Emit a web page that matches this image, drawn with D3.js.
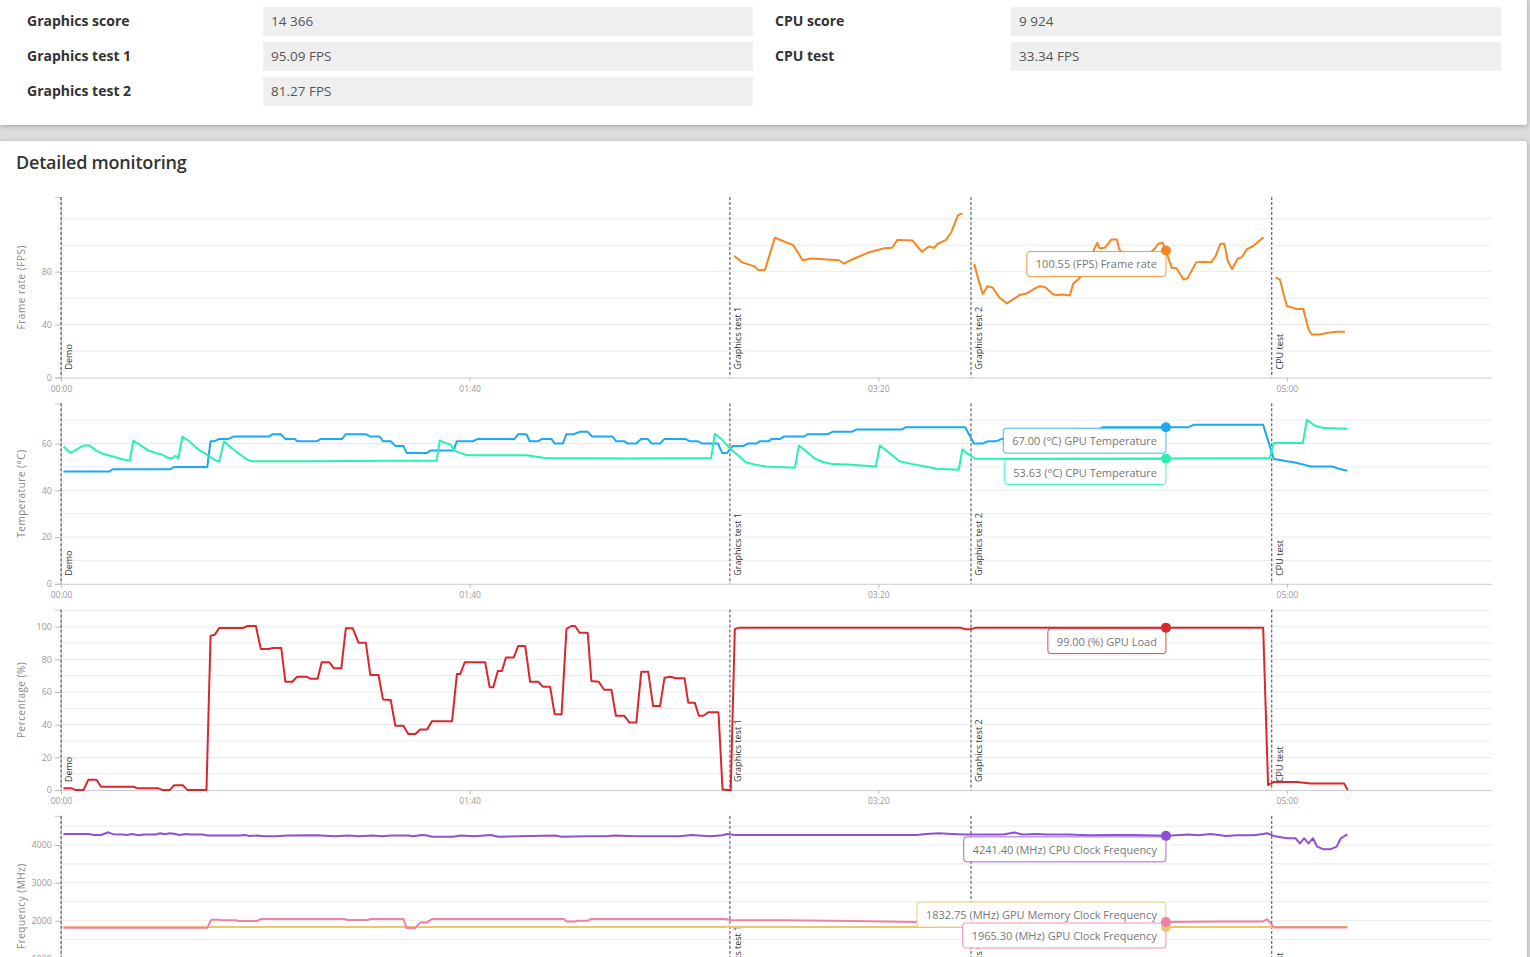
<!DOCTYPE html>
<html>
<head>
<meta charset="utf-8">
<script src="https://cdnjs.cloudflare.com/ajax/libs/d3/7.8.5/d3.min.js"></script>
<style>
  html, body { margin: 0; padding: 0; }
  body {
    width: 1530px; height: 957px; overflow: hidden; position: relative;
    background: #dcdcdc; font-family: "Open Sans", sans-serif;
  }
  .card {
    position: absolute; left: 0; width: 1527px; background: #fff;
    box-shadow: 0 1px 5px rgba(0,0,0,0.28);
  }
  #scores { top: 0; height: 125px; border-radius: 0 0 3px 0; }
  #monitor { top: 141px; height: 1000px; border-radius: 0 3px 0 0; }
  .score-label {
    position: absolute; font-size: 14px; font-weight: 700; color: #333;
    line-height: 29px; margin-top: -1px;
  }
  .score-value {
    position: absolute; width: 482px; height: 29px; line-height: 29px;
    padding-left: 8px; background: #efefef; color: #555; font-size: 13.5px;
  }
  #title {
    position: absolute; left: 16px; top: 150px; font-size: 18px;
    font-weight: 600; color: #333; letter-spacing: -0.2px;
  }
  svg { position: absolute; left: 0; top: 0; }
  .tick text { font-family: "Open Sans", sans-serif; fill: #999; }
  .tick line { stroke: #bbb; }
  .domain { stroke: #ccc; }
</style>
</head>
<body>
<div class="card" id="scores"></div>
<div class="card" id="monitor"></div>
<div id="title">Detailed monitoring</div>
<svg id="charts" width="1530" height="957"></svg>
<script>
"use strict";

// ---- score table ----
const leftLabels = ["Graphics score", "Graphics test 1", "Graphics test 2"];
const leftValues = ["14 366", "95.09 FPS", "81.27 FPS"];
const rightLabels = ["CPU score", "CPU test"];
const rightValues = ["9 924", "33.34 FPS"];

// ---- monitoring data: [time (s), value] ----
const markerTimes = [0, 163.7, 222.7, 296.3];
const markerNames = ["Demo", "Graphics test 1", "Graphics test 2", "CPU test"];
const timeTicks = [0, 100, 200, 300];

const fpsTicks = [0, 40, 80];
const tempTicks = [0, 20, 40, 60];
const loadTicks = [0, 20, 40, 60, 80, 100];
const freqTicks = [0, 1000, 2000, 3000, 4000];

const frameRate = [
  [164.7, 92], [166.7, 87], [169.7, 84], [170.7, 81], [172.3, 81.5], [174.7, 105.6],
  [179.2, 100], [181.5, 88.6], [183.7, 90], [190.4, 88.6], [191.6, 86], [193.5, 89],
  [197.8, 94.7], [201.5, 97.7], [203.4, 98], [204.7, 104], [208.4, 103.5], [210.7, 95],
  [212.4, 99], [213.7, 98], [214.5, 101], [216.6, 104], [217.9, 110], [219.5, 122.6],
  [220.6, 124], [222, null],
  [223.5, 85.8], [224.6, 73], [225.6, 63], [226.7, 69], [228, 68], [229.6, 60.4],
  [231.5, 56], [233, 59], [234.6, 62.3], [236.3, 63.5], [237.9, 66.5], [239.5, 69],
  [240.8, 68.3], [242.8, 62.8], [244, 62.3], [245.2, 62.8], [246.9, 62], [247.7, 70.8],
  [248.9, 74], [250.5, 80], [252, 90], [253, 98], [253.6, 101.8], [254.2, 97.5],
  [255.4, 98], [257.1, 104.3], [258.4, 104.3], [258.9, 97.5], [260.5, 90], [262.5, 86],
  [264.5, 88], [266.5, 94], [267.7, 97.5], [268.5, 101], [269.6, 101.8], [270.4, 96],
  [271.8, 83], [273, 82.5], [274.7, 74], [275.7, 75], [277.8, 87], [279.4, 87.5],
  [281.5, 87], [282.6, 92], [283.7, 101], [284.7, 101], [285.6, 87.5], [286.6, 82],
  [287.9, 89.6], [289, 91], [290.2, 97], [291.6, 99], [294.3, 106], [296, null],
  [297.2, 75.6], [298.3, 74], [299.3, 61.7], [300, 54], [301.4, 52.8], [302.7, 51.5],
  [304, 52], [305.3, 36.3], [306.1, 32.5], [308, 32.5], [310.1, 33.8], [312.3, 34.5],
  [314.2, 34.5]
];

const gpuTemp = [
  [0.6, 48], [11.8, 48], [12.7, 49], [26.8, 49], [27.7, 50], [35.8, 50], [36.6, 61],
  [37.6, 61], [38.7, 62], [41, 62], [42.2, 63], [50.9, 63], [51.8, 64], [53.8, 64],
  [54.9, 62], [57.2, 62], [57.8, 61], [62.7, 61], [63.6, 62], [68.8, 62], [69.7, 64],
  [74.6, 64], [75.7, 63], [78, 63], [78.8, 61], [80.7, 61], [81.8, 59], [83.8, 59],
  [84.6, 56], [89.6, 56], [90.4, 57], [96, 57], [96.9, 61], [100.9, 61], [102, 62],
  [111, 62], [111.9, 64], [113.9, 64], [114.7, 61], [116.8, 61], [117.7, 62], [120, 62],
  [120.8, 60], [122.8, 60], [123.7, 64], [125.4, 64], [126.9, 65], [128.9, 65], [130, 63],
  [135, 63], [135.8, 61], [137.8, 61], [138.7, 60], [140.8, 60], [142, 62], [143.6, 62],
  [144.5, 60], [146.6, 60], [147.7, 62], [152.8, 62], [153.8, 61], [155.8, 61], [157, 60],
  [160.8, 60], [161.8, 56], [163, 56], [164.4, 59], [167, 59], [168.1, 60], [170.2, 60],
  [171.1, 61], [173.2, 61], [173.9, 62], [176, 62], [176.9, 63], [181.9, 63], [182.7, 64],
  [187.7, 64], [188.8, 65], [193.5, 65], [194.6, 66], [205.7, 66], [206.8, 67], [221.3, 67],
  [223.4, 60], [225.5, 60], [226.9, 61], [229, 61], [230.2, 62], [233, 62], [234, 63],
  [238, 63], [239, 64], [243, 64], [244, 65], [248, 65], [249, 66], [254, 66], [255, 67],
  [276, 67], [277.2, 68], [294.2, 68], [296.8, 53.4], [298.4, 53], [300, 52.4],
  [301.6, 52], [303.2, 51.4], [305.8, 50.2], [311.1, 50.2], [312.7, 49.2], [314.8, 48.4]
];

const cpuTemp = [
  [0.6, 58.8], [2.3, 56], [4, 57.6], [5.5, 59.2], [6.9, 59.2], [8.7, 57], [10.4, 55.5],
  [12.7, 54.5], [14.5, 53.5], [16.8, 52.6], [17.7, 61.3], [19.7, 59], [21.4, 57],
  [23.1, 56], [24.9, 55.2], [26, 54], [27.2, 53.6], [28, 54.8], [28.7, 53.6], [29.7, 63],
  [31.2, 61.3], [33.5, 57.6], [35.8, 55.2], [37.6, 53], [38.7, 52.2], [39.9, 61],
  [41.6, 58.3], [43.9, 55.2], [45.7, 53], [46.8, 52.4], [60.1, 52.4], [79.8, 52.6],
  [91.9, 52.6], [92.7, 61.3], [94.2, 60.2], [95.4, 59.5], [96.2, 57], [97.7, 56],
  [99.4, 55], [113.9, 55], [118.5, 53.8], [138.7, 53.6], [159.1, 53.8], [160, 64.2],
  [161.8, 61.6], [163.7, 58], [165.5, 55.2], [167.6, 52], [169.7, 51], [172.4, 50.2],
  [179.6, 49.6], [180.6, 59.2], [182.4, 56.6], [184.5, 53.5], [186.7, 52], [188.8, 51.2],
  [192.5, 51], [199.4, 50.2], [200.4, 59.2], [202.5, 56.3], [205.2, 52.4], [208.4, 51.2],
  [211.5, 50.2], [214.2, 49.2], [219.7, 48.8], [220.6, 57.6], [221.6, 56], [223.7, 53.5],
  [270.4, 53.6], [295.8, 53.8], [296.8, 60.2], [303.9, 60.2], [304.9, 70.2], [306.9, 67.6],
  [309, 66.6], [314.8, 66.3]
];

const gpuLoad = [
  [0.6, 1.2], [2.5, 1.2], [3.7, 0], [5.5, 0], [6.7, 6.3], [8.7, 6.3], [9.8, 2], [17.9, 2],
  [18.5, 1.2], [23.7, 1.2], [24.9, 0], [26.6, 0], [27.7, 3], [29.8, 3], [31, 0], [35.6, 0],
  [36.6, 94.5], [37.6, 95], [38.7, 99.2], [44.5, 99.2], [45.7, 100.4], [47.7, 100.4],
  [48.9, 86.3], [50.9, 86.3], [51.8, 87], [53.9, 87], [54.9, 66.3], [56.6, 66.3],
  [57.8, 69.4], [60.1, 69.4], [61, 68.2], [62.8, 68.2], [63.8, 78.2], [65.7, 78.2],
  [66.8, 74.5], [68.6, 74.5], [69.7, 99], [71.4, 99], [72.8, 90.2], [74.6, 90.2],
  [75.7, 70.4], [77.7, 70.4], [78.8, 55.5], [80.7, 55.1], [81.8, 39.4], [83.8, 39.4],
  [85, 34.3], [86.7, 34.3], [87.9, 37.1], [89.6, 37.1], [90.8, 42.2], [95.7, 42.2],
  [96.9, 71], [97.7, 71], [98.8, 78.2], [103.8, 78.2], [104.9, 63], [105.8, 63],
  [106.9, 72.9], [107.9, 72.9], [108.9, 81.2], [110.8, 81.2], [111.9, 88.2], [113.6, 88.2],
  [114.8, 66.3], [116.8, 66.3], [117.9, 63.3], [119.7, 63.3], [120.8, 46.5], [122.5, 46.3],
  [123.7, 98.6], [124.9, 100.4], [125.8, 100.4], [126.9, 96.3], [128.9, 96.3], [129.8, 66.7],
  [131.6, 66.3], [132.9, 61.4], [134.7, 61.4], [135.8, 45.5], [137.8, 45.5], [139.1, 41.4],
  [140.8, 41.4], [142, 72.4], [143.7, 72.4], [144.9, 51.4], [146.6, 51.4], [147.7, 68.8],
  [149.1, 69.4], [150.5, 68.4], [152.6, 68.4], [153.5, 53.5], [155.1, 53.5], [156.1, 45.5],
  [157.2, 45.5], [158.4, 47.6], [160.9, 47.6], [161.9, 0.3], [163.1, 0], [163.9, 0],
  [164.9, 98.6], [166.1, 99.4], [220, 99.4], [221.3, 98.4], [222.6, 98.4], [224, 99.4],
  [294.2, 99.4], [295.4, 3], [296.8, 5], [302.4, 5], [305.8, 4], [314, 4], [314.9, 0]
];

const cpuClock = [
  [0.6, 4290], [6.9, 4290], [8, 4265], [9.8, 4265], [11.6, 4335], [12.7, 4285], [15, 4280],
  [16.2, 4265], [17.3, 4290], [19.1, 4255], [20.2, 4275], [23.1, 4275], [24.3, 4310],
  [25.4, 4285], [26.6, 4310], [28, 4290], [28.9, 4265], [30.6, 4290], [31.8, 4275],
  [34.7, 4275], [35.8, 4250], [43.9, 4250], [45.1, 4265], [46.2, 4240], [48, 4250],
  [49.7, 4230], [52.6, 4230], [55.5, 4250], [62.4, 4255], [67.1, 4230], [70.5, 4250],
  [72.8, 4230], [76.3, 4250], [78.6, 4230], [80.9, 4250], [85, 4250], [86.1, 4230],
  [88.4, 4265], [89.6, 4250], [90.8, 4220], [96, 4220], [97.7, 4250], [101.2, 4230],
  [105.2, 4265], [107, 4220], [112.1, 4230], [120.8, 4250], [122.5, 4220], [128.9, 4230],
  [133.5, 4230], [135.3, 4250], [141, 4230], [146.8, 4230], [151.4, 4230], [154.3, 4265],
  [156.1, 4250], [159, 4230], [161.8, 4255], [163, 4290], [165, 4265], [209.5, 4265],
  [211.6, 4290], [214.8, 4310], [218, 4290], [221.2, 4275], [230.6, 4275], [233.3, 4330],
  [235.4, 4275], [238.6, 4290], [241.2, 4275], [246.5, 4275], [251.8, 4255], [257, 4265],
  [262.4, 4265], [270.4, 4241], [272.9, 4255], [276.1, 4275], [278.2, 4255], [281.4, 4290],
  [285.1, 4240], [287.8, 4255], [292, 4255], [295.2, 4310], [296.8, 4240], [300, 4177],
  [302.1, 4177], [303.2, 4044], [304.2, 4177], [305.3, 4044], [306.4, 4177], [307.4, 3956],
  [309, 3885], [310.6, 3885], [312.2, 3956], [313.2, 4177], [314.8, 4283]
];

const gpuMemClock = [
  [0.6, 1825], [35.8, 1825], [36.6, 1832], [162.5, 1832], [163.5, 1850], [164.5, 1832],
  [314.8, 1832]
];

const gpuClock = [
  [0.6, 1815], [35.8, 1815], [36.8, 2027], [38.7, 2027], [39.3, 2010], [42.8, 2010],
  [43.4, 1990], [48, 1990], [48.8, 2044], [69.4, 2044], [70, 2018], [75.1, 2018],
  [75.7, 2044], [83.8, 2044], [84.6, 1805], [86.7, 1805], [87.9, 1955], [89.6, 1955],
  [90.8, 2044], [123.1, 2044], [123.7, 1982], [126, 1982], [126.6, 2000], [128.9, 2000],
  [129.7, 2044], [162.4, 2044], [164.4, 2010], [177.6, 2010], [193.5, 1990], [208.9, 1965],
  [270.4, 1965], [283.6, 1982], [294.2, 1982], [295.2, 2044], [296.8, 1823], [314.8, 1823]
];

// hover readout
const hoverTime = 270.4;
const hoverTexts = {
  fps: "100.55 (FPS) Frame rate",
  gpuTemp: "67.00 (°C) GPU Temperature",
  cpuTemp: "53.63 (°C) CPU Temperature",
  gpuLoad: "99.00 (%) GPU Load",
  cpuClock: "4241.40 (MHz) CPU Clock Frequency",
  gpuMemClock: "1832.75 (MHz) GPU Memory Clock Frequency",
  gpuClock: "1965.30 (MHz) GPU Clock Frequency",
};

// ---- score table ----
function renderScores(labels, values, labelX, boxX) {
  const card = d3.select("#scores");
  labels.forEach((label, i) => {
    card.append("div").attr("class", "score-label")
        .style("left", labelX + "px").style("top", (7 + i*35) + "px")
        .text(label);
    card.append("div").attr("class", "score-value")
        .style("left", boxX + "px").style("top", (7 + i*35) + "px")
        .text(values[i]);
  });
}
renderScores(leftLabels, leftValues, 27, 263);
renderScores(rightLabels, rightValues, 775, 1011);

// ---- charts ----
const svg = d3.select("#charts");
const pageHeight = 957;

const margins = {left: 61, right: 1492, top: 197};
const chartStep = 206.3;
const chartHeight = 180.5;

const xScale = d3.scaleLinear().domain([0, 350.2]).range([margins.left, margins.right]);

const formatTime = t => {
  const m = Math.floor(t / 60), s = t % 60;
  return d3.format("02")(m) + ":" + d3.format("02")(s);
};

function valueAt(data, t) {
  const pts = data.filter(d => d[1] != null);
  const i = d3.bisector(d => d[0]).left(pts, t);
  if (i <= 0) return pts[0][1];
  if (i >= pts.length) return pts[pts.length-1][1];
  const a = pts[i-1], b = pts[i];
  return a[1] + (b[1] - a[1]) * (t - a[0]) / (b[0] - a[0]);
}

const charts = [
  {title: "Frame rate (FPS)", grid: 20, ticks: fpsTicks,
   series: [{data: frameRate, color: "#f7861f", text: hoverTexts.fps}]},
  {title: "Temperature (°C)", grid: 10, ticks: tempTicks,
   series: [{data: gpuTemp, color: "#1aa9f2", text: hoverTexts.gpuTemp},
            {data: cpuTemp, color: "#28f1b4", text: hoverTexts.cpuTemp}]},
  {title: "Percentage (%)", grid: 10, ticks: loadTicks,
   series: [{data: gpuLoad, color: "#d8282e", text: hoverTexts.gpuLoad}]},
  {title: "Frequency (MHz)", grid: 500, ticks: freqTicks,
   series: [{data: cpuClock, color: "#8f50d2", text: hoverTexts.cpuClock},
            {data: gpuMemClock, color: "#ebc66e", text: hoverTexts.gpuMemClock, dy: -26},
            {data: gpuClock, color: "#ef80a8", text: hoverTexts.gpuClock}]},
];

charts.forEach((chart, ci) => {
  const top = margins.top + ci * chartStep;
  const bottom = top + chartHeight;
  const maxV = d3.max(chart.series, s => d3.max(s.data, d => d[1]));
  const y = d3.scaleLinear().domain([0, maxV * 1.1]).range([bottom, top]);

  const g = svg.append("g");

  // grid
  g.append("g").selectAll("line")
    .data(d3.range(chart.grid, maxV * 1.1, chart.grid))
    .join("line")
    .attr("x1", margins.left).attr("x2", margins.right)
    .attr("y1", d => y(d)).attr("y2", d => y(d))
    .attr("stroke", "#ebebeb").attr("stroke-width", 1);

  // x axis (the last one sits below the fold of the page)
  if (bottom < pageHeight) {
    g.append("g")
      .attr("transform", `translate(0, ${bottom})`)
      .call(d3.axisBottom(xScale).tickValues(timeTicks).tickFormat(formatTime)
              .tickSize(4).tickSizeOuter(0).tickPadding(4))
      .call(a => a.selectAll("text").attr("font-size", 8.5));
  }

  // y axis
  g.append("g")
    .attr("transform", `translate(${margins.left}, 0)`)
    .call(d3.axisLeft(y).tickValues(chart.ticks.filter(v => y(v) < pageHeight + 4))
            .tickFormat(d3.format("d"))
            .tickSize(6).tickSizeOuter(6).tickPadding(3))
    .call(a => a.selectAll("text").attr("font-size", 9));

  g.append("text")
    .attr("transform", `translate(25, ${(top + bottom) / 2}) rotate(-90)`)
    .attr("text-anchor", "middle")
    .attr("font-size", 10).attr("fill", "#888").attr("letter-spacing", 0.5)
    .text(chart.title);

  // test markers
  const markers = g.append("g").selectAll("g")
    .data(markerTimes).join("g")
    .attr("transform", t => `translate(${xScale(t)}, 0)`);
  markers.append("line")
    .attr("y1", top).attr("y2", bottom)
    .attr("stroke", "#444").attr("stroke-dasharray", "3,2");
  markers.append("text")
    .attr("transform", `translate(11, ${bottom - 8}) rotate(-90)`)
    .attr("font-size", 9).attr("fill", "#333")
    .text((t, i) => markerNames[i]);

  // lines
  const line = d3.line()
    .defined(d => d[1] != null)
    .x(d => xScale(d[0]))
    .y(d => y(d[1]));

  chart.series.forEach(s => {
    g.append("path")
      .datum(s.data)
      .attr("fill", "none")
      .attr("stroke", s.color)
      .attr("stroke-width", 2)
      .attr("stroke-linejoin", "round")
      .attr("d", line);
  });

  // hover readout boxes
  const hx = xScale(hoverTime);
  chart.series.forEach(s => {
    const py = y(valueAt(s.data, hoverTime));
    const box = g.append("g");
    const txt = box.append("text")
      .attr("font-size", 11).attr("fill", "#777")
      .attr("text-anchor", "middle")
      .attr("dominant-baseline", "central")
      .text(s.text);
    const w = txt.node().getComputedTextLength() + 18;
    const boxTop = py + 1 + (s.dy || 0);
    box.insert("rect", "text")
      .attr("x", hx - w).attr("y", boxTop)
      .attr("width", w).attr("height", 25)
      .attr("rx", 3).attr("ry", 3)
      .attr("fill", "#fff").attr("stroke", s.color).attr("stroke-opacity", 0.85);
    txt.attr("x", hx - w / 2).attr("y", boxTop + 12.5);
  });
  chart.series.forEach(s => {
    g.append("circle")
      .attr("cx", hx).attr("cy", y(valueAt(s.data, hoverTime)))
      .attr("r", 5).attr("fill", s.color);
  });
});
</script>
</body>
</html>
